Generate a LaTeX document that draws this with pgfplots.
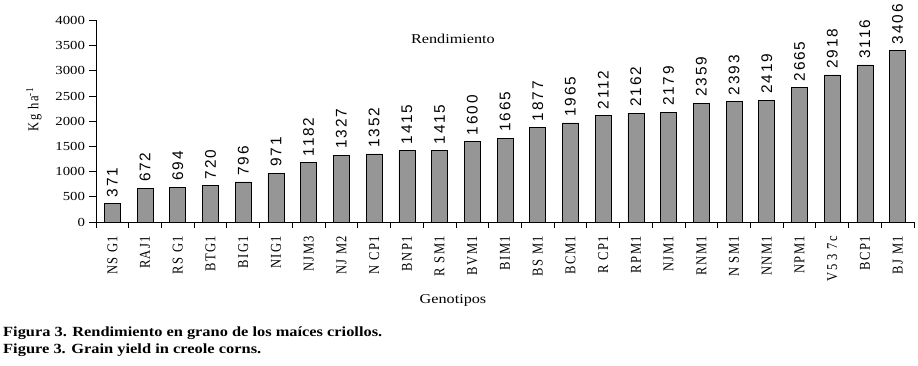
\documentclass[border=0pt]{standalone}
\usepackage{fontspec}
\setmainfont{Liberation Serif}
\usepackage{pgfplots}
\pgfplotsset{compat=1.18}
\newfontfamily\hserif[FakeStretch=1.2]{Liberation Serif}
\newfontfamily\vserif[FakeStretch=0.84,LetterSpace=10]{Liberation Serif}
\newfontfamily\vsans[FakeStretch=1.0,LetterSpace=12]{Liberation Sans}
\definecolor{barcol}{RGB}{150,150,150}
\begin{document}
\begin{tikzpicture}
\path[use as bounding box] (-96pt,-144pt) rectangle (822pt,222pt);
\begin{axis}[
  scale only axis,
  width=818pt, height=201.6pt,
  xmin=-0.5, xmax=24.5,
  ymin=0, ymax=4000,
  axis x line=bottom, axis y line=left,
  axis line style={-, line width=0.9pt},
  clip=false,
  ybar, bar width=16pt,
  ytick={0,500,...,4000},
  tick align=outside,
  major tick length=6.5pt,
  tick style={line width=0.8pt, black},
  /pgf/number format/1000 sep={},
  /pgf/number format/assume math mode=true,
  yticklabel style={font=\hserif\fontsize{12.3}{14}\selectfont, xshift=-1pt},
  xtick={-0.5,0.5,...,24.5},
  x tick label as interval=true,
  xticklabels={NS G1,RAJ1,RS G1,BTG1,BIG1,NIG1,NJM3,NJ M2,N CP1,BNP1,R SM1,BVM1,BIM1,BS M1,BCM1,R CP1,RPM1,NJM1,RNM1,N SM1,NNM1,NPM1,V5 3 7c,BCP1,BJ M1},
  xticklabel style={rotate=90, anchor=east, font=\vserif\fontsize{15}{16}\selectfont, inner sep=1pt, inner xsep=7pt},
  xlabel={Genotipos},
  xlabel style={at={(axis description cs:0.4364,-0.387)}, anchor=center, font=\hserif\fontsize{13.5}{15}\selectfont},
  ylabel={Kg ha\textsuperscript{-1}},
  ylabel style={at={(axis description cs:-0.0758,0.56)}, anchor=center, font=\vserif\fontsize{15}{16}\selectfont},
  title={Rendimiento},
  title style={at={(axis description cs:0.4364,0.878)}, anchor=center, font=\hserif\fontsize{13.5}{15}\selectfont},
  nodes near coords,
  every node near coord/.append style={rotate=90, anchor=west, inner sep=0pt, inner xsep=6pt, font=\vsans\fontsize{15.4}{16}\selectfont},
]
\addplot[fill=barcol, draw=black, line width=0.6pt] coordinates {
(0,371) (1,672) (2,694) (3,720) (4,796) (5,971) (6,1182) (7,1327) (8,1352) (9,1415)
(10,1415) (11,1600) (12,1665) (13,1877) (14,1965) (15,2112) (16,2162) (17,2179) (18,2359) (19,2393)
(20,2419) (21,2665) (22,2918) (23,3116) (24,3406)};
\end{axis}
\node[anchor=base west, font=\bfseries\fontsize{14}{16}\selectfont, inner sep=0pt] at (-93pt,-115pt) {\resizebox{379pt}{\height}{Figura 3. Rendimiento en grano de los maíces criollos.}};
\node[anchor=base west, font=\bfseries\fontsize{14}{16}\selectfont, inner sep=0pt] at (-93pt,-132pt) {\resizebox{258pt}{\height}{Figure 3. Grain yield in creole corns.}};
\end{tikzpicture}
\end{document}
